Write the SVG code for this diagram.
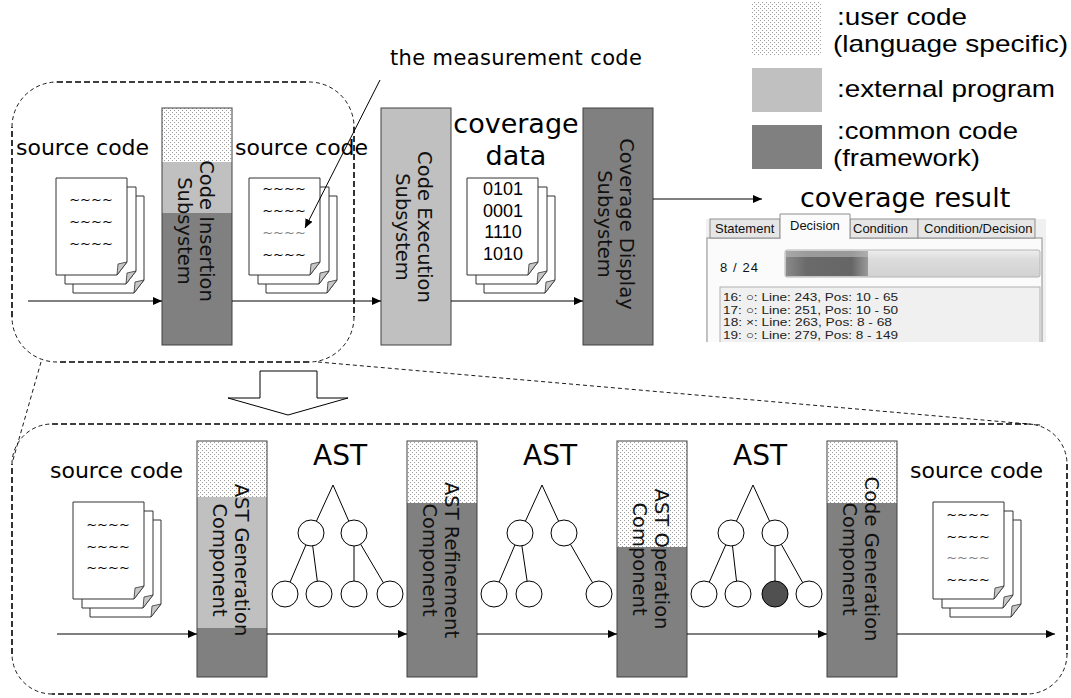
<svg xmlns="http://www.w3.org/2000/svg" width="1071" height="698" viewBox="0 0 1071 698">
  <style>
    .lbl { font-family: "DejaVu Sans", Verdana, sans-serif; fill: #000; }
    .bar-t { font-family: "DejaVu Sans", Verdana, sans-serif; font-size: 19.5px; fill: #111; text-anchor: middle; }
    .ar { font-family: "Liberation Sans", Arial, sans-serif; fill: #000; }
    .leg { font-family: "Liberation Sans", Arial, sans-serif; font-size: 24px; fill: #000; }
    .bar { stroke: #404040; stroke-width: 1; }
    .user { fill: url(#dots); }
    .ext { fill: #c0c0c0; }
    .com { fill: #808080; }
    .flow { stroke: #000; stroke-width: 1; fill: none; marker-end: url(#ah); }
    .edge { stroke: #000; stroke-width: 1; fill: none; }
    .node { fill: #fff; stroke: #000; stroke-width: 1; }
    .dash-b { stroke: #000; stroke-width: 1.6; stroke-dasharray: 6 3; fill: none; }
    .dash-t { stroke: #000; stroke-width: 0.9; stroke-dasharray: 4 3; fill: none; }
    .tilde { font-family: "DejaVu Sans", sans-serif; font-size: 13px; text-anchor: middle; fill: #000; }
    .tab { font-family: "Liberation Sans", Arial, sans-serif; font-size: 13px; fill: #111; }
    .row { font-family: "Liberation Sans", Arial, "DejaVu Sans", sans-serif; font-size: 11px; fill: #222; }
  </style>
  <defs>
    <pattern id="dots" width="4" height="4" patternUnits="userSpaceOnUse">
      <rect width="4" height="4" fill="#fff"/>
      <rect x="0" y="0" width="1" height="1" fill="#9a9a9a"/>
      <rect x="2" y="2" width="1" height="1" fill="#9a9a9a"/>
    </pattern>
    <marker id="ah" markerWidth="10" markerHeight="8" refX="9" refY="4" orient="auto" markerUnits="userSpaceOnUse">
      <path d="M0,0 L9,4 L0,8 Z" fill="#000"/>
    </marker>
    <!-- one page with a folded corner -->
    <g id="page">
      <path d="M0,0 H71 V84 L61,97 H0 Z" fill="#fff" stroke="#333" stroke-width="1"/>
      <path d="M71,84 L61,97 L62,86 Z" fill="#c8c8c8" stroke="#333" stroke-width="0.8"/>
    </g>
    <!-- stack of three pages -->
    <g id="stack">
      <use href="#page" x="17" y="18"/>
      <use href="#page" x="9" y="9"/>
      <use href="#page" x="0" y="0"/>
    </g>
    <linearGradient id="pbg" x1="0" y1="0" x2="0" y2="1">
      <stop offset="0" stop-color="#eeeeee"/>
      <stop offset="0.35" stop-color="#dcdcdc"/>
      <stop offset="1" stop-color="#d2d2d2"/>
    </linearGradient>
    <linearGradient id="pfill" x1="0" y1="0" x2="1" y2="0">
      <stop offset="0" stop-color="#8a8a8a"/>
      <stop offset="0.25" stop-color="#6a6a6a"/>
      <stop offset="0.8" stop-color="#666"/>
      <stop offset="1" stop-color="#9a9a9a"/>
    </linearGradient>
    <clipPath id="shotclip"><rect x="700" y="208" width="350" height="134"/></clipPath>
  </defs>

  <rect width="1071" height="698" fill="#fff"/>

  <!-- legend -->
  <g id="legend">
    <rect x="752" y="2" width="70" height="53" class="user"/>
    <rect x="752" y="68" width="70" height="44" class="ext"/>
    <rect x="752" y="125" width="70" height="44" class="com"/>
    <text class="leg" x="837" y="25" textLength="130" lengthAdjust="spacingAndGlyphs">:user code</text>
    <text class="leg" x="833" y="52" textLength="235" lengthAdjust="spacingAndGlyphs">(language specific)</text>
    <text class="leg" x="837" y="97" textLength="218" lengthAdjust="spacingAndGlyphs">:external program</text>
    <text class="leg" x="837" y="139" textLength="181" lengthAdjust="spacingAndGlyphs">:common code</text>
    <text class="leg" x="833" y="166" textLength="147" lengthAdjust="spacingAndGlyphs">(framework)</text>
  </g>

  <!-- overview frame around the insertion step -->
  <g id="insertion-frame">
    <path class="dash-b" d="M57,82 H309 M354,127 V317 M309,362 H57 M12,317 V127"/>
    <path class="dash-t" d="M12,127 A45,45 0 0 1 57,82 M309,82 A45,45 0 0 1 354,127 M354,317 A45,45 0 0 1 309,362 M57,362 A45,45 0 0 1 12,317"/>
  </g>

  <!-- detail frame -->
  <g id="detail-frame">
    <path class="dash-b" d="M52,424 H1027 M1067,464 V654 M1027,694 H52 M12,654 V464"/>
    <path class="dash-t" d="M12,464 A40,40 0 0 1 52,424 M1027,424 A40,40 0 0 1 1067,464 M1067,654 A40,40 0 0 1 1027,694 M52,694 A40,40 0 0 1 12,654"/>
    <path class="dash-t" d="M41,362 L13,460 M318,362 L1040,425" stroke-dasharray="6 3"/>
  </g>

  <!-- expand arrow -->
  <g id="expand-arrow">
    <path d="M260,371 H317 V398 H348 L288,415 L228,398 H260 Z" fill="#fff" stroke="#000" stroke-width="1"/>
  </g>

  <!-- top row: source documents -->
  <g id="src-in">
    <text class="lbl" font-size="22" x="16" y="155">source code</text>
    <use href="#stack" x="56" y="178"/>
    <text class="tilde" x="91" y="204">~~~~</text>
    <text class="tilde" x="91" y="226">~~~~</text>
    <text class="tilde" x="91" y="248">~~~~</text>
  </g>

  <g id="code-insertion">
    <rect x="162" y="108" width="70" height="54" class="user"/>
    <rect x="162" y="162" width="70" height="51" class="ext"/>
    <rect x="162" y="213" width="70" height="132" class="com"/>
    <rect x="162" y="108" width="70" height="237" class="bar" fill="none"/>
    <g transform="translate(200,231) rotate(90)">
      <text class="bar-t" x="0" y="0">Code Insertion</text>
      <text class="bar-t" x="0" y="22">Subsystem</text>
    </g>
  </g>

  <g id="src-instrumented">
    <text class="lbl" font-size="22" x="235" y="155">source code</text>
    <use href="#stack" x="249" y="178"/>
    <text class="tilde" x="284" y="193">~~~~</text>
    <text class="tilde" x="284" y="215">~~~~</text>
    <text class="tilde" x="284" y="237" style="fill:#808080">~~~~</text>
    <text class="tilde" x="284" y="259">~~~~</text>
  </g>

  <g id="measurement-note">
    <text class="lbl" font-size="21" x="390" y="65" textLength="252" lengthAdjust="spacing">the measurement code</text>
  </g>

  <g id="code-execution">
    <rect x="381" y="108" width="70" height="237" class="bar ext"/>
    <g transform="translate(418,227) rotate(90)">
      <text class="bar-t" x="0" y="0">Code Execution</text>
      <text class="bar-t" x="0" y="22">Subsystem</text>
    </g>
  </g>

  <g id="coverage-data">
    <text class="lbl" font-size="27" x="516" y="133" text-anchor="middle">coverage</text>
    <text class="lbl" font-size="27" x="516" y="165" text-anchor="middle">data</text>
    <use href="#stack" x="467" y="178"/>
    <text class="ar" font-size="18" x="503" y="195" text-anchor="middle">0101</text>
    <text class="ar" font-size="18" x="503" y="217" text-anchor="middle">0001</text>
    <text class="ar" font-size="18" x="503" y="238" text-anchor="middle">1110</text>
    <text class="ar" font-size="18" x="503" y="260" text-anchor="middle">1010</text>
  </g>

  <g id="coverage-display">
    <rect x="583" y="108" width="70" height="237" class="bar com"/>
    <g transform="translate(620,224) rotate(90)">
      <text class="bar-t" x="0" y="0">Coverage Display</text>
      <text class="bar-t" x="0" y="22">Subsystem</text>
    </g>
  </g>

  <!-- coverage result window -->
  <g id="coverage-result">
    <text class="lbl" font-size="27" x="800" y="207">coverage result</text>
    <g clip-path="url(#shotclip)">
      <rect x="706" y="219" width="340" height="130" fill="#f0f0f0"/>
      <rect x="707" y="238" width="335" height="110" fill="#fbfbfb" stroke="#8e8e8e"/>
      <rect x="710" y="219" width="70" height="19" fill="#e6e6e6" stroke="#8e8e8e"/>
      <rect x="850" y="219" width="68" height="19" fill="#e6e6e6" stroke="#8e8e8e"/>
      <rect x="918" y="219" width="117" height="19" fill="#e6e6e6" stroke="#8e8e8e"/>
      <path d="M780,238 V214 H850 V238" fill="#fbfbfb" stroke="#8e8e8e"/>
      <rect x="781" y="236" width="68" height="4" fill="#fbfbfb"/>
      <text class="tab" x="715" y="233">Statement</text>
      <text class="tab" x="790" y="230">Decision</text>
      <text class="tab" x="853" y="233">Condition</text>
      <text class="tab" x="924" y="233">Condition/Decision</text>
      <text class="tab" x="720" y="272" textLength="38" lengthAdjust="spacing">8 / 24</text>
      <rect x="785" y="250" width="255" height="27" rx="2" fill="url(#pbg)" stroke="#b4b4b4"/>
      <rect x="786" y="251" width="82" height="25" fill="url(#pfill)"/>
      <rect x="786" y="251" width="82" height="6" fill="#bdbdbd" opacity="0.6"/>
      <rect x="720" y="287" width="320" height="70" fill="#f0f0f0" stroke="#b0b0b0"/>
      <text class="row" x="723" y="301" textLength="175" lengthAdjust="spacingAndGlyphs">16: ○: Line: 243, Pos: 10 - 65</text>
      <text class="row" x="723" y="313.5" textLength="175" lengthAdjust="spacingAndGlyphs">17: ○: Line: 251, Pos: 10 - 50</text>
      <text class="row" x="723" y="326" textLength="169" lengthAdjust="spacingAndGlyphs">18: ×: Line: 263, Pos: 8 - 68</text>
      <text class="row" x="723" y="338.5" textLength="175" lengthAdjust="spacingAndGlyphs">19: ○: Line: 279, Pos: 8 - 149</text>
    </g>
  </g>

  <!-- bottom row -->
  <g id="src-bottom-in">
    <text class="lbl" font-size="22" x="50" y="478">source code</text>
    <use href="#stack" x="73" y="502"/>
    <text class="tilde" x="108" y="529">~~~~</text>
    <text class="tilde" x="108" y="551">~~~~</text>
    <text class="tilde" x="108" y="572">~~~~</text>
  </g>

  <g id="ast-generation">
    <rect x="197" y="441" width="70" height="56" class="user"/>
    <rect x="197" y="497" width="70" height="131" class="ext"/>
    <rect x="197" y="628" width="70" height="49" class="com"/>
    <rect x="197" y="441" width="70" height="236" class="bar" fill="none"/>
    <g transform="translate(235,560) rotate(90)">
      <text class="bar-t" x="0" y="0">AST Generation</text>
      <text class="bar-t" x="0" y="22">Component</text>
    </g>
  </g>

  <g id="ast-1">
    <text class="lbl" font-size="28" x="340" y="465" text-anchor="middle">AST</text>
    <path class="edge" d="M333,485 L311,533 M333,485 L354,533 M311,533 L285,594 M311,533 L319,594 M354,533 L354,594 M354,533 L390,594"/>
    <circle class="node" cx="311" cy="533" r="13"/>
    <circle class="node" cx="354" cy="533" r="13"/>
    <circle class="node" cx="285" cy="594" r="13"/>
    <circle class="node" cx="319" cy="594" r="13"/>
    <circle class="node" cx="354" cy="594" r="13"/>
    <circle class="node" cx="390" cy="594" r="13"/>
  </g>

  <g id="ast-refinement">
    <rect x="407" y="441" width="70" height="62" class="user"/>
    <rect x="407" y="503" width="70" height="174" class="com"/>
    <rect x="407" y="441" width="70" height="236" class="bar" fill="none"/>
    <g transform="translate(445,560) rotate(90)">
      <text class="bar-t" x="0" y="0">AST Refinement</text>
      <text class="bar-t" x="0" y="22">Component</text>
    </g>
  </g>

  <g id="ast-2">
    <text class="lbl" font-size="28" x="550" y="465" text-anchor="middle">AST</text>
    <path class="edge" d="M542,485 L520,533 M542,485 L564,533 M520,533 L494,594 M520,533 L529,594 M564,533 L599,594"/>
    <circle class="node" cx="520" cy="533" r="13"/>
    <circle class="node" cx="564" cy="533" r="13"/>
    <circle class="node" cx="494" cy="594" r="13"/>
    <circle class="node" cx="529" cy="594" r="13"/>
    <circle class="node" cx="599" cy="594" r="13"/>
  </g>

  <g id="ast-operation">
    <rect x="617" y="441" width="70" height="106" class="user"/>
    <rect x="617" y="547" width="70" height="130" class="com"/>
    <rect x="617" y="441" width="70" height="236" class="bar" fill="none"/>
    <g transform="translate(655,559) rotate(90)">
      <text class="bar-t" x="0" y="0">AST Operation</text>
      <text class="bar-t" x="0" y="22">Component</text>
    </g>
  </g>

  <g id="ast-3">
    <text class="lbl" font-size="28" x="760" y="465" text-anchor="middle">AST</text>
    <path class="edge" d="M753,485 L731,533 M753,485 L775,533 M731,533 L704,594 M731,533 L738,594 M775,533 L775,594 M775,533 L809,594"/>
    <circle class="node" cx="731" cy="533" r="13"/>
    <circle class="node" cx="775" cy="533" r="13"/>
    <circle class="node" cx="704" cy="594" r="13"/>
    <circle class="node" cx="738" cy="594" r="13"/>
    <circle class="node" cx="775" cy="594" r="13" style="fill:#505050"/>
    <circle class="node" cx="809" cy="594" r="13"/>
  </g>

  <g id="code-generation">
    <rect x="827" y="441" width="70" height="62" class="user"/>
    <rect x="827" y="503" width="70" height="174" class="com"/>
    <rect x="827" y="441" width="70" height="236" class="bar" fill="none"/>
    <g transform="translate(865,559) rotate(90)">
      <text class="bar-t" x="0" y="0">Code Generation</text>
      <text class="bar-t" x="0" y="22">Component</text>
    </g>
  </g>

  <g id="src-bottom-out">
    <text class="lbl" font-size="22" x="910" y="478">source code</text>
    <use href="#stack" x="933" y="502"/>
    <text class="tilde" x="968" y="519">~~~~</text>
    <text class="tilde" x="968" y="541">~~~~</text>
    <text class="tilde" x="968" y="562" style="fill:#808080">~~~~</text>
    <text class="tilde" x="968" y="584">~~~~</text>
  </g>

  <!-- connectors -->
  <g id="connectors">
    <path class="flow" d="M28,301 H162"/>
    <path class="flow" d="M232,301 H381"/>
    <path class="flow" d="M451,301 H583"/>
    <path class="flow" d="M653,199 H762"/>
    <path class="flow" d="M380,80 L305,228"/>
    <path class="flow" d="M57,634 H197"/>
    <path class="flow" d="M267,634 H407"/>
    <path class="flow" d="M477,634 H617"/>
    <path class="flow" d="M687,634 H827"/>
    <path class="flow" d="M897,634 H1055"/>
  </g>
</svg>
